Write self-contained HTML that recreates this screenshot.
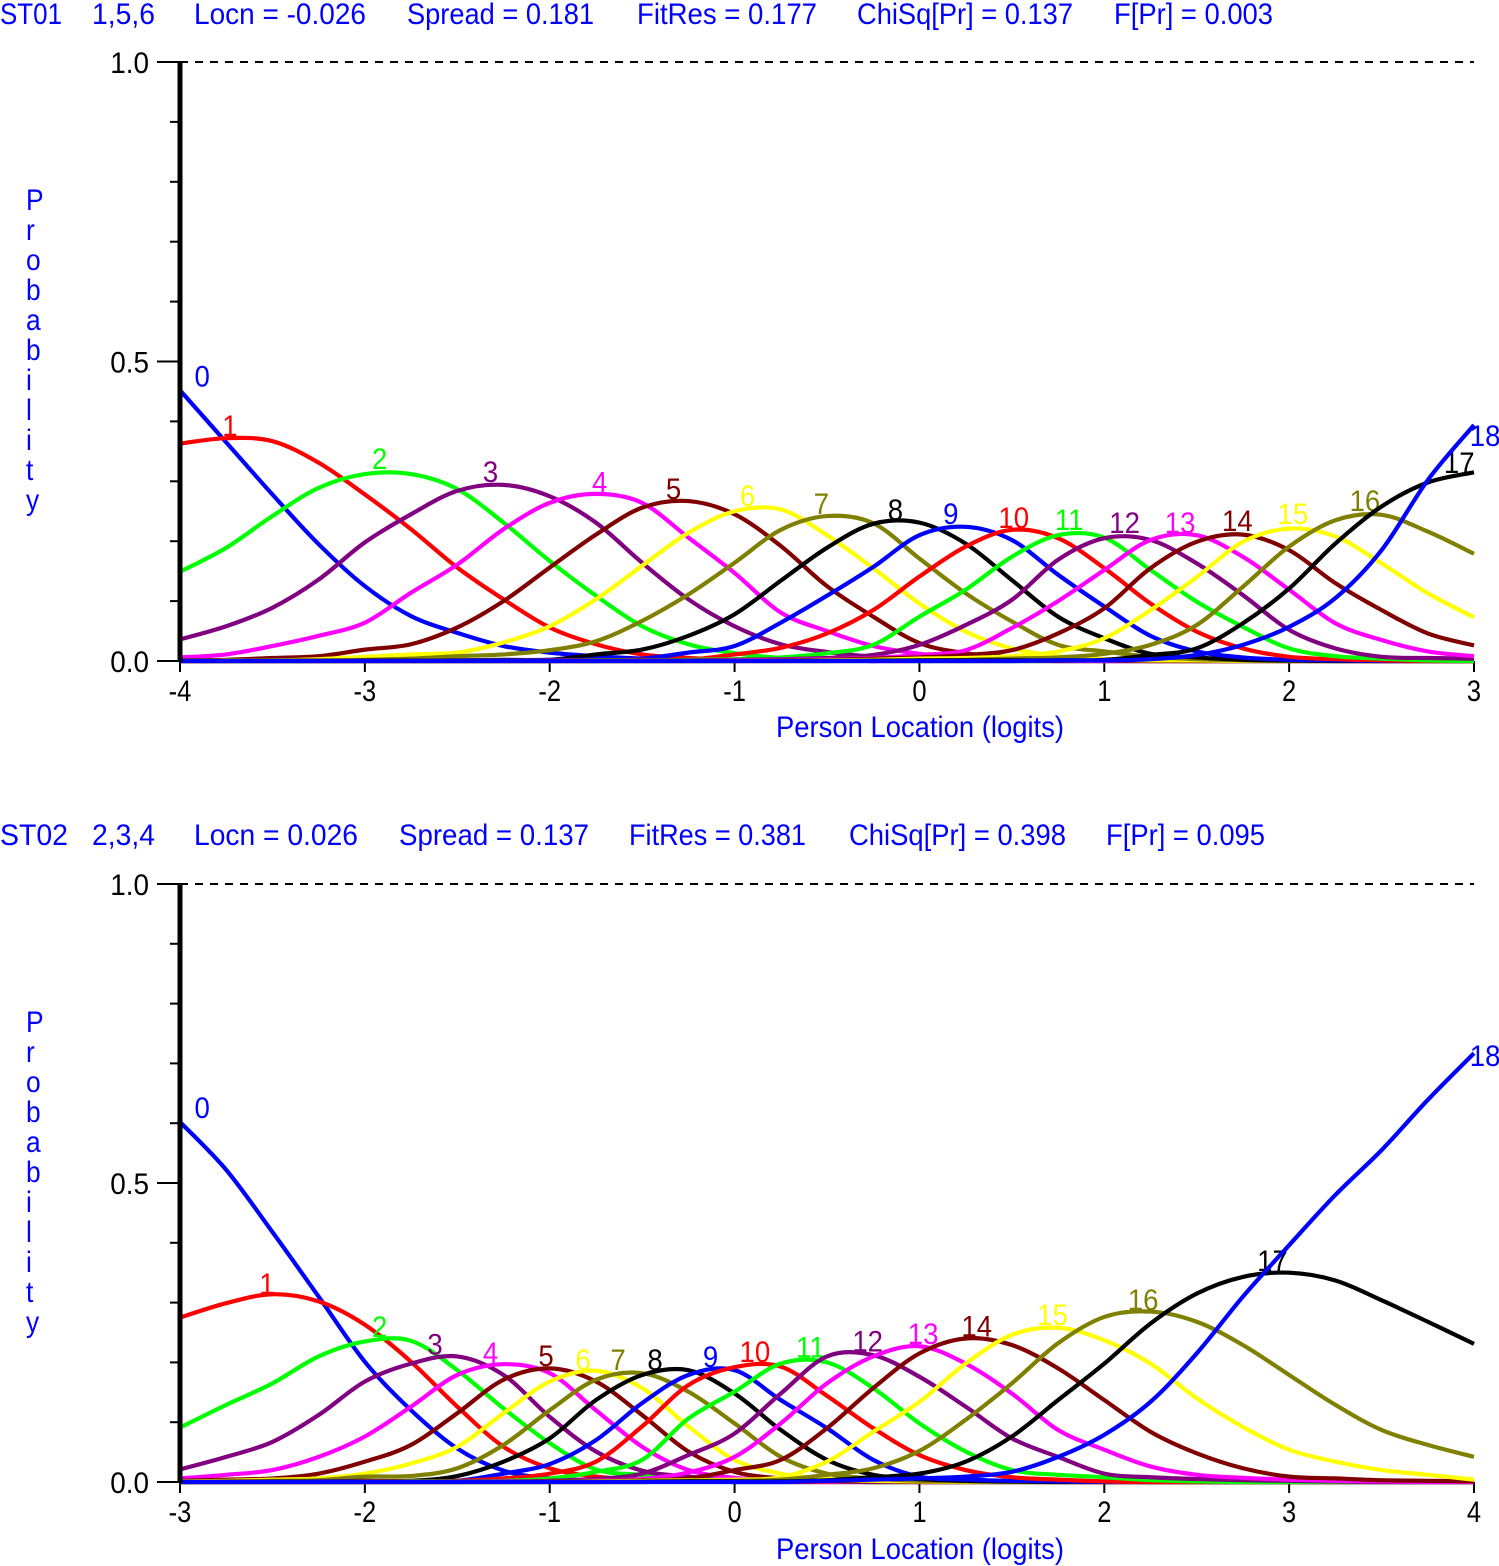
<!DOCTYPE html>
<html lang="en">
<head>
<meta charset="utf-8">
<title>Category probability curves ST01 and ST02</title>
<style>
html,body{margin:0;padding:0;background:#fff;}
svg{display:block;}
text{font-family:"Liberation Sans",sans-serif;font-size:30px;}
.hdr{fill:#0000ff;}
</style>
</head>
<body>
<svg id="chart" xmlns="http://www.w3.org/2000/svg" width="1499" height="1566" viewBox="0 0 1499 1566">
<rect x="0" y="0" width="1499" height="1566" fill="#ffffff"/>
<g class="hdr">
<text x="0" y="24" textLength="62" lengthAdjust="spacingAndGlyphs">ST01</text>
<text x="92" y="24" textLength="63" lengthAdjust="spacingAndGlyphs">1,5,6</text>
<text x="194" y="24" textLength="172" lengthAdjust="spacingAndGlyphs">Locn = -0.026</text>
<text x="407" y="24" textLength="187" lengthAdjust="spacingAndGlyphs">Spread = 0.181</text>
<text x="637" y="24" textLength="180" lengthAdjust="spacingAndGlyphs">FitRes = 0.177</text>
<text x="857" y="24" textLength="216" lengthAdjust="spacingAndGlyphs">ChiSq[Pr] = 0.137</text>
<text x="1114" y="24" textLength="159" lengthAdjust="spacingAndGlyphs">F[Pr] = 0.003</text>
</g>
<g class="hdr">
<text x="0" y="845" textLength="68" lengthAdjust="spacingAndGlyphs">ST02</text>
<text x="92" y="845" textLength="63" lengthAdjust="spacingAndGlyphs">2,3,4</text>
<text x="194" y="845" textLength="164" lengthAdjust="spacingAndGlyphs">Locn = 0.026</text>
<text x="399" y="845" textLength="190" lengthAdjust="spacingAndGlyphs">Spread = 0.137</text>
<text x="629" y="845" textLength="177" lengthAdjust="spacingAndGlyphs">FitRes = 0.381</text>
<text x="849" y="845" textLength="217" lengthAdjust="spacingAndGlyphs">ChiSq[Pr] = 0.398</text>
<text x="1106" y="845" textLength="159" lengthAdjust="spacingAndGlyphs">F[Pr] = 0.095</text>
</g>
<text class="hdr" x="776" y="737" textLength="288" lengthAdjust="spacingAndGlyphs">Person Location (logits)</text>
<text class="hdr" x="776" y="1559" textLength="288" lengthAdjust="spacingAndGlyphs">Person Location (logits)</text>
</svg>
<script>
const categoryLabels = ['0','1','2','3','4','5','6','7','8','9','10','11','12','13','14','15','16','17','18'];
const yTickValues = [0,0.1,0.2,0.3,0.4,0.5,0.6,0.7,0.8,0.9,1.0];
const yTickLabels = ['0.0','0.5','1.0'];
const yTickLabelValues = [0,0.5,1];
const yAxisLetters = ['P','r','o','b','a','b','i','l','i','t','y'];

const st01Logits = [-4,-3.75,-3.5,-3.25,-3,-2.75,-2.5,-2.25,-2,-1.75,-1.5,-1.25,-1,-0.75,-0.5,-0.25,0,0.25,0.5,0.75,1,1.25,1.5,1.75,2,2.25,2.5,2.75,3];
const st01XTicks = [-4,-3,-2,-1,0,1,2,3];
const st01Cat00 = [.452,.365,.278,.195, .125,.075,.047,.025, .014,.008,.004,.003, .002,.001,.001,0, 0,0,0,0, 0,0,0,0, 0,0,0,0, 0];
const st01Cat01 = [.363,.372,.367,.331, .278,.220,.156,.103, .056,.028,.011,.005, .002,.001,.001,0, 0,0,0,0, 0,0,0,0, 0,0,0,0, 0];
const st01Cat02 = [.149,.189,.242,.289, .312,.312,.287,.231, .167,.109,.058,.028, .013,.005,.002,.001, 0,0,0,0, 0,0,0,0, 0,0,0,0, 0];
const st01Cat03 = [.036,.058,.089,.136, .198,.245,.284,.294, .275,.231,.164,.103, .058,.028,.015,.007, .003,.001,.001,0, 0,0,0,0, 0,0,0,0, 0];
const st01Cat04 = [.006,.011,.025,.042, .064,.114,.161,.220, .264,.279,.264,.206, .147,.081,.050,.025, .012,.005,.002,.001, 0,0,0,0, 0,0,0,0, 0];
const st01Cat05 = [.001,.002,.005,.008, .019,.028,.056,.100, .156,.211,.256,.267, .245,.192,.125,.074, .030,.013,.006,.002, .001,0,0,0, 0,0,0,0, 0];
const st01Cat06 = [0,.001,.001,.003, .007,.011,.014,.031, .058,.103,.159,.214, .250,.253,.210,.155, .096,.049,.021,.008, .003,.001,.001,0, 0,0,0,0, 0];
const st01Cat07 = [0,0,.001,.001, .002,.004,.008,.011, .018,.033,.067,.111, .164,.219,.242,.230, .171,.113,.066,.027, .016,.007,.003,.001, 0,0,0,0, 0];
const st01Cat08 = [0,0,0,0, .001,.001,.001,.002, .002,.011,.019,.042, .078,.134,.189,.229, .231,.196,.135,.074, .038,.012,.006,.002, .001,0,0,0, 0];
const st01Cat09 = [0,0,0,0, 0,0,.001,.001, .002,.002,.004,.014, .025,.064,.109,.157, .210,.224,.202,.144, .091,.042,.016,.006, .002,.001,0,0, 0];
const st01Cat10 = [0,0,0,0, 0,0,0,0, .001,.001,.002,.002, .011,.022,.046,.085, .141,.191,.219,.205, .155,.096,.049,.021, .007,.003,.001,0, 0];
const st01Cat11 = [0,0,0,0, 0,0,0,0, 0,.001,.001,.002, .003,.006,.013,.027, .074,.119,.174,.210, .206,.152,.099,.057, .021,.008,.004,.001, 0];
const st01Cat12 = [0,0,0,0, 0,0,0,0, 0,0,.001,.001, .002,.003,.005,.010, .027,.060,.102,.169, .205,.202,.163,.110, .052,.021,.007,.005, .004];
const st01Cat13 = [0,0,0,0, 0,0,0,0, 0,0,0,0, .001,.002,.003,.005, .010,.018,.055,.100, .152,.202,.210,.174, .119,.063,.035,.016, .008];
const st01Cat14 = [0,0,0,0, 0,0,0,0, 0,0,0,0, 0,.001,.002,.004, .006,.010,.018,.046, .088,.155,.199,.211, .185,.130,.085,.046, .026];
const st01Cat15 = [0,0,0,0, 0,0,0,0, 0,0,0,0, 0,0,.001,.002, .004,.005,.008,.016, .038,.085,.140,.199, .221,.208,.163,.113, .073];
const st01Cat16 = [0,0,0,0, 0,0,0,0, 0,0,0,0, 0,0,0,.001, .001,.002,.004,.006, .012,.027,.060,.124, .191,.235,.244,.216, .179];
const st01Cat17 = [0,0,0,0, 0,0,0,0, 0,0,0,0, 0,0,0,0, .001,.001,.001,.001, .002,.010,.021,.063, .121,.196,.258,.298, .315];
const st01Cat18 = [0,0,0,0, 0,0,0,0, 0,0,0,0, 0,0,0,0, 0,0,0,.001, .001,.003,.010,.027, .057,.105,.185,.302, .394];
const st01Series = [st01Cat00,st01Cat01,st01Cat02,st01Cat03,st01Cat04,st01Cat05,st01Cat06,st01Cat07,st01Cat08,st01Cat09,st01Cat10,st01Cat11,st01Cat12,st01Cat13,st01Cat14,st01Cat15,st01Cat16,st01Cat17,st01Cat18];
const st01LabelLogit = [-3.88,-3.73,-2.92,-2.32,-1.73,-1.33,-0.93,-0.53,-0.13,0.17,0.51,0.81,1.11,1.41,1.72,2.02,2.41,2.92,3.06];
const st01LabelProb = [.477,.394,.339,.317,.300,.289,.277,.264,.254,.247,.240,.237,.232,.232,.235,.247,.269,.332,.377];

const st02Logits = [-3,-2.75,-2.5,-2.25,-2,-1.75,-1.5,-1.25,-1,-0.75,-0.5,-0.25,0,0.25,0.5,0.75,1,1.25,1.5,1.75,2,2.25,2.5,2.75,3,3.25,3.5,3.75,4];
const st02XTicks = [-3,-2,-1,0,1,2,3,4];
const st02Cat00 = [.602,.522,.418,.310, .201,.120,.056,.019, .006,.003,.001,.001, 0,0,0,0, 0,0,0,0, 0,0,0,0, 0,0,0,0, 0];
const st02Cat01 = [.275,.299,.314,.302, .263,.201,.126,.059, .023,.009,.004,.002, .001,0,0,0, 0,0,0,0, 0,0,0,0, 0,0,0,0, 0];
const st02Cat02 = [.091,.129,.165,.210, .235,.236,.187,.123, .065,.021,.012,.007, .005,.002,.001,0, 0,0,0,0, 0,0,0,0, 0,0,0,0, 0];
const st02Cat03 = [.021,.042,.067,.112, .168,.198,.210,.179, .109,.051,.019,.009, .004,.002,.001,0, 0,0,0,0, 0,0,0,0, 0,0,0,0, 0];
const st02Cat04 = [.006,.012,.020,.042, .076,.126,.179,.197, .182,.120,.059,.020, .007,.003,.001,.001, 0,0,0,0, 0,0,0,0, 0,0,0,0, 0];
const st02Cat05 = [.002,.004,.006,.014, .034,.062,.115,.171, .190,.168,.112,.051, .017,.006,.002,.001, 0,0,0,0, 0,0,0,0, 0,0,0,0, 0];
const st02Cat06 = [.001,.002,.004,.006, .014,.031,.059,.115, .168,.186,.157,.093, .037,.014,.005,.002, .001,0,0,0, 0,0,0,0, 0,0,0,0, 0];
const st02Cat07 = [0,.001,.002,.003, .009,.010,.023,.062, .120,.171,.182,.151, .098,.042,.014,.006, .002,.001,0,0, 0,0,0,0, 0,0,0,0, 0];
const st02Cat08 = [0,0,.001,.001, .002,.002,.010,.034, .073,.137,.179,.187, .148,.087,.037,.012, .005,.002,.001,0, 0,0,0,0, 0,0,0,0, 0];
const st02Cat09 = [0,0,0,.001, .001,.001,.002,.014, .030,.070,.132,.179, .187,.137,.090,.037, .009,.004,.002,.001, 0,0,0,0, 0,0,0,0, 0];
const st02Cat10 = [0,0,0,0, .001,.001,.002,.006, .014,.034,.093,.162, .192,.193,.144,.090, .045,.020,.008,.004, .001,0,0,0, 0,0,0,0, 0];
const st02Cat11 = [0,0,0,0, 0,.001,.001,.002, .006,.017,.037,.106, .151,.198,.200,.157, .098,.051,.020,.012, .008,.003,.001,0, 0,0,0,0, 0];
const st02Cat12 = [0,0,0,0, 0,0,.001,.001, .002,.005,.014,.045, .081,.148,.210,.212, .176,.126,.073,.042, .014,.008,.005,.003, .002,.001,0,0, 0];
const st02Cat13 = [0,0,0,0, 0,0,0,.001, .001,.003,.005,.016, .042,.098,.165,.210, .227,.198,.148,.087, .054,.026,.012,.007, .004,.002,.001,0, 0];
const st02Cat14 = [0,0,0,0, 0,0,0,0, .001,.002,.003,.006, .020,.037,.090,.157, .215,.240,.229,.190, .137,.084,.048,.023, .009,.006,.003,.002, .001];
const st02Cat15 = [0,0,0,0, 0,0,0,0, 0,.001,.002,.003, .004,.008,.034,.084, .134,.198,.246,.258, .237,.198,.140,.092, .054,.034,.020,.012, .004];
const st02Cat16 = [0,0,0,0, 0,0,0,0, 0,0,.001,.002, .002,.004,.012,.023, .052,.104,.165,.232, .276,.285,.268,.229, .179,.129,.087,.062, .042];
const st02Cat17 = [0,0,0,0, 0,0,0,0, 0,0,0,.001, .001,.001,.003,.008, .014,.034,.076,.137, .198,.265,.315,.343, .350,.337,.304,.268, .231];
const st02Cat18 = [0,0,0,0, 0,0,0,0, 0,0,0,0, 0,0,.002,.004, .006,.009,.017,.042, .079,.134,.215,.310, .396,.480,.555,.639, .717];
const st02Series = [st02Cat00,st02Cat01,st02Cat02,st02Cat03,st02Cat04,st02Cat05,st02Cat06,st02Cat07,st02Cat08,st02Cat09,st02Cat10,st02Cat11,st02Cat12,st02Cat13,st02Cat14,st02Cat15,st02Cat16,st02Cat17,st02Cat18];
const st02LabelLogit = [-2.88,-2.53,-1.92,-1.62,-1.32,-1.02,-0.82,-0.63,-0.43,-0.13,0.11,0.41,0.72,1.02,1.31,1.72,2.21,2.91,4.06];
const st02LabelProb = [.627,.333,.261,.232,.217,.212,.206,.206,.206,.211,.219,.227,.237,.249,.262,.281,.306,.371,.714];

const palette = ['#0000ff','#ff0000','#00ff00','#800080','#ff00ff','#800000','#ffff00','#808000','#000000'];
const SVGNS = 'http://www.w3.org/2000/svg';
const chart = document.getElementById('chart');

function svgEl(tag, parent) {
  const el = document.createElementNS(SVGNS, tag);
  parent.appendChild(el);
  return el;
}
function setLine(el, x1, y1, x2, y2, color, width) {
  el.setAttribute('x1', x1);
  el.setAttribute('y1', y1);
  el.setAttribute('x2', x2);
  el.setAttribute('y2', y2);
  el.setAttribute('stroke', color);
  el.setAttribute('stroke-width', width);
}
function setText(el, str, x, y, color, anchor, sx) {
  el.textContent = str;
  el.setAttribute('transform', 'translate(' + x + ',' + y + ') scale(' + sx + ',1)');
  el.setAttribute('fill', color);
  el.setAttribute('text-anchor', anchor);
}
function curvePath(xs, ys, floorY) {
  let d = 'M' + xs[0].toFixed(2) + ' ' + ys[0].toFixed(2);
  for (let i = 0; i < xs.length - 1; i++) {
    const i0 = Math.max(i - 1, 0);
    const i3 = Math.min(i + 2, xs.length - 1);
    const c1x = xs[i] + (xs[i + 1] - xs[i0]) / 6;
    const c1y = Math.min(floorY, ys[i] + (ys[i + 1] - ys[i0]) / 6);
    const c2x = xs[i + 1] - (xs[i3] - xs[i]) / 6;
    const c2y = Math.min(floorY, ys[i + 1] - (ys[i3] - ys[i]) / 6);
    d += 'C' + c1x.toFixed(2) + ' ' + c1y.toFixed(2) + ' ' + c2x.toFixed(2) + ' ' + c2y.toFixed(2) + ' ' + xs[i + 1].toFixed(2) + ' ' + ys[i + 1].toFixed(2);
  }
  return d;
}

function drawPanel(prefix, top, bottom, logits, xTicks, series, labelLogit, labelProb) {
  const left = 180, right = 1474;
  const xMin = logits[0], xMax = logits[logits.length - 1];
  const xScale = function (v) { return left + (v - xMin) / (xMax - xMin) * (right - left); };
  const yScale = function (p) { return bottom - p * (bottom - top); };

  const panel = svgEl('g', chart);
  
  

  const dashed = svgEl('line', panel);
  
  
  setLine(dashed, left, yScale(1), right, yScale(1), '#000000', 2);
  dashed.setAttribute('stroke-dasharray', '8 7');

  yTickValues.forEach(function (t) {
    const major = yTickLabelValues.indexOf(t) >= 0;
    const tick = svgEl('line', panel);
    
    
    setLine(tick, major ? 157 : 170, yScale(t), left, yScale(t), '#000000', 2);
  });
  yTickLabels.forEach(function (lab, i) {
    const txt = svgEl('text', panel);
    
    
    setText(txt, lab, 149, yScale(yTickLabelValues[i]) + 11, '#000000', 'end', 0.93);
  });
  yAxisLetters.forEach(function (ch, i) {
    const txt = svgEl('text', panel);
    
    
    setText(txt, ch, 26, top + 148 + i * 30, '#0000ff', 'start', 0.88);
  });
  xTicks.forEach(function (t) {
    const tick = svgEl('line', panel);
    
    
    setLine(tick, xScale(t), bottom, xScale(t), bottom + 11, '#000000', 2);
    const txt = svgEl('text', panel);
    
    
    setText(txt, String(t), xScale(t), bottom + 40, '#000000', 'middle', 0.85);
  });

  const baseline = svgEl('line', panel);
  
  
  setLine(baseline, left, bottom, right, bottom, '#000000', 2);

  const xs = logits.map(xScale);
  series.forEach(function (vals, k) {
    const color = palette[k % palette.length];
    const curve = svgEl('path', panel);
    
    
    curve.setAttribute('d', curvePath(xs, vals.map(yScale), bottom));
    curve.setAttribute('fill', 'none');
    curve.setAttribute('stroke', color);
    curve.setAttribute('stroke-width', '4.2');
    curve.setAttribute('stroke-linejoin', 'round');
    const lab = svgEl('text', panel);
    
    
    setText(lab, categoryLabels[k], xScale(labelLogit[k]), yScale(labelProb[k]) + 11, color, 'middle', 0.92);
  });

  const axis = svgEl('line', panel);
  
  
  setLine(axis, left, top, left, bottom + 1, '#000000', 5);
}

drawPanel('st01', 62, 661, st01Logits, st01XTicks, st01Series, st01LabelLogit, st01LabelProb);
drawPanel('st02', 884, 1482, st02Logits, st02XTicks, st02Series, st02LabelLogit, st02LabelProb);
</script>
</body>
</html>
